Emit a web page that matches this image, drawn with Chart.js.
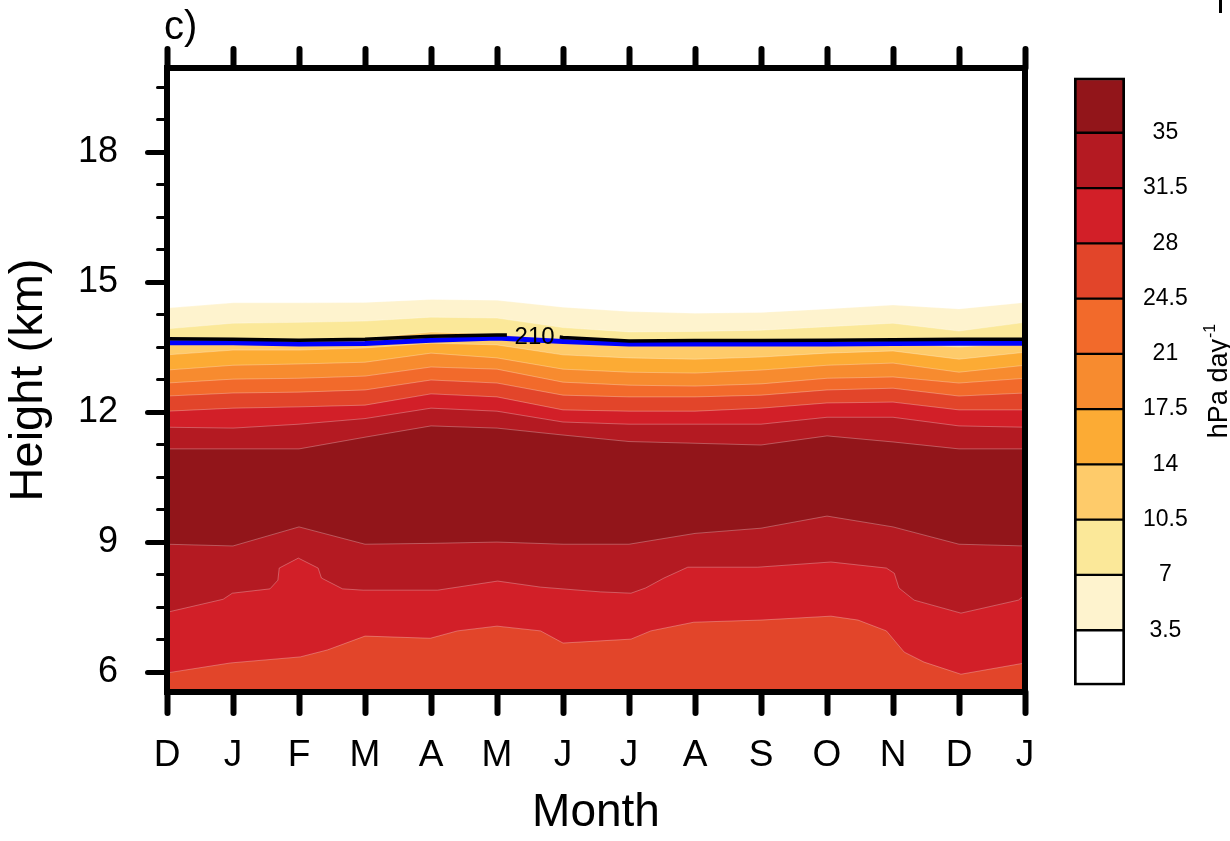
<!DOCTYPE html>
<html><head><meta charset="utf-8">
<script src="https://cdn.jsdelivr.net/npm/chart.js@4.4.1/dist/chart.umd.min.js"></script>
<style>
html,body{margin:0;padding:0;background:#fff;}
#wrap{position:relative;width:1230px;height:841px;overflow:hidden;background:#fff;}
#main{position:absolute;left:0;top:0;}
#cbar{position:absolute;left:1050px;top:0;}
</style></head><body>
<div id="wrap">
<canvas id="main" width="1230" height="841"></canvas>
<canvas id="cbar" width="180" height="841"></canvas>
</div>
<script>
// ---------- data ----------
const monthLabels = ['D','J','F','M','A','M','J','J','A','S','O','N','D','J'];
const heightTicks = [6, 9, 12, 15, 18];
const heightMinorTicks = [6.75, 7.5, 8.25, 9.75, 10.5, 11.25, 12.75, 13.5, 14.25, 15.75, 16.5, 17.25, 18.75, 19.5];
const levelValues = [3.5, 7, 10.5, 14, 17.5, 21, 24.5, 28, 31.5, 35];
const levelLabels = ['3.5', '7', '10.5', '14', '17.5', '21', '24.5', '28', '31.5', '35'];
const bandColors = ['#ffffff', '#fef3ce', '#fbe899', '#fecb6a', '#fcab34', '#f78b2f', '#f26a2b', '#e2452a', '#d21f28', '#b41a22', '#92151a'];

// contour boundaries: [month index (0 = D), height km]
const upper3_5 = [[0,14.40],[1,14.52],[2,14.52],[3,14.53],[4,14.60],[5,14.58],[6,14.42],[7,14.32],[8,14.28],[9,14.30],[10,14.38],[11,14.47],[12,14.38],[13,14.53]];
const upper7 = [[0,13.92],[1,14.05],[2,14.07],[3,14.10],[4,14.19],[5,14.17],[6,13.95],[7,13.85],[8,13.86],[9,13.89],[10,13.97],[11,14.05],[12,13.87],[13,14.07]];
const upper10_5 = [[0,13.64],[1,13.66],[2,13.64],[3,13.70],[4,13.85],[5,13.80],[6,13.65],[7,13.59],[8,13.57],[9,13.57],[10,13.58],[11,13.59],[12,13.50],[13,13.60]];
const upper14 = [[0,13.32],[1,13.43],[2,13.43],[3,13.48],[4,13.59],[5,13.55],[6,13.32],[7,13.25],[8,13.22],[9,13.27],[10,13.36],[11,13.41],[12,13.22],[13,13.38]];
const upper17_5 = [[0,12.97],[1,13.08],[2,13.11],[3,13.15],[4,13.36],[5,13.25],[6,12.99],[7,12.92],[8,12.90],[9,12.97],[10,13.08],[11,13.13],[12,12.92],[13,13.08]];
const upper21 = [[0,12.67],[1,12.76],[2,12.78],[3,12.83],[4,13.04],[5,12.99],[6,12.69],[7,12.62],[8,12.60],[9,12.65],[10,12.78],[11,12.81],[12,12.67],[13,12.78]];
const upper24_5 = [[0,12.37],[1,12.44],[2,12.46],[3,12.51],[4,12.74],[5,12.67],[6,12.39],[7,12.35],[8,12.35],[9,12.39],[10,12.51],[11,12.55],[12,12.37],[13,12.44]];
const upper28 = [[0,12.02],[1,12.09],[2,12.12],[3,12.16],[4,12.42],[5,12.35],[6,12.05],[7,12.02],[8,12.02],[9,12.09],[10,12.21],[11,12.23],[12,12.05],[13,12.05]];
const upper31_5 = [[0,11.65],[1,11.63],[2,11.72],[3,11.85],[4,12.09],[5,12.02],[6,11.77],[7,11.72],[8,11.72],[9,11.72],[10,11.88],[11,11.88],[12,11.68],[13,11.65]];
const upper35 = [[0,11.15],[1,11.15],[2,11.15],[3,11.42],[4,11.68],[5,11.63],[6,11.47],[7,11.32],[8,11.28],[9,11.24],[10,11.45],[11,11.31],[12,11.15],[13,11.15]];
const lower35 = [[0,8.95],[1,8.91],[2,9.35],[3,8.95],[4,8.97],[5,9.00],[6,8.95],[7,8.95],[8,9.20],[9,9.32],[10,9.60],[11,9.35],[12,8.95],[13,8.91]];
const lower31_5 = [[0,7.38],[0.85,7.68],[0.99,7.82],[1.56,7.92],[1.68,8.12],[1.70,8.40],[1.99,8.63],[2.29,8.40],[2.34,8.17],[2.66,7.92],[2.97,7.89],[4.10,7.89],[5.01,8.10],[5.66,7.96],[6.57,7.85],[7.03,7.82],[7.25,7.94],[7.53,8.17],[7.89,8.42],[8.95,8.42],[10.06,8.54],[10.90,8.40],[11.02,8.28],[11.09,7.94],[11.32,7.66],[12.03,7.36],[12.90,7.66],[13,7.78]];
const lower28 = [[0,5.98],[0.96,6.21],[2.02,6.35],[2.43,6.51],[3.0,6.83],[3.99,6.78],[4.4,6.95],[5.0,7.06],[5.66,6.95],[6.0,6.67],[6.57,6.72],[7.03,6.76],[7.33,6.95],[7.98,7.15],[9.0,7.20],[10.06,7.29],[10.47,7.20],[10.9,6.95],[11.17,6.46],[11.47,6.23],[12.03,5.95],[13,6.21]];
// overlay lines
const blueLine = [[0,13.60],[1,13.60],[2,13.57],[3,13.58],[4,13.66],[5,13.71],[6,13.63],[7,13.57],[8,13.57],[9,13.57],[10,13.57],[11,13.58],[12,13.59],[13,13.59]];
const contour210 = [[0,13.69],[1,13.68],[2,13.66],[3,13.68],[4,13.75],[5,13.78],[5.15,13.78],[5.5,null],[5.95,13.73],[6,13.72],[7,13.64],[8,13.65],[9,13.65],[10,13.66],[11,13.67],[12,13.68],[13,13.68]];
const contour210Label = {text: '210', month: 5.57, km: 13.73};
const panelLabel = 'c)';
const unitLabel = 'hPa day';
const unitSup = '-1';

// ---------- chart ----------
const FONT = '"Liberation Sans", Arial, Helvetica, sans-serif';
Chart.defaults.font.family = FONT;
Chart.defaults.color = '#000';

const toPts = arr => arr.map(p => ({x: p[0], y: p[1]}));
const boundaries = [
  [upper3_5, 1], [upper7, 2], [upper10_5, 3], [upper14, 4], [upper17_5, 5],
  [upper21, 6], [upper24_5, 7], [upper28, 8], [upper31_5, 9], [upper35, 10],
  [lower35, 9], [lower31_5, 8], [lower28, 7]
];
const datasets = boundaries.map((b, i) => ({
  data: toPts(b[0]),
  fill: 'start',
  backgroundColor: bandColors[b[1]],
  borderColor: 'rgba(255,255,255,0.28)',
  borderWidth: 1,
  pointRadius: 0,
  tension: 0,
  order: 100 - i
}));
datasets.push({data: toPts(blueLine), fill: false, borderColor: '#0000ff', borderWidth: 5, pointRadius: 0, tension: 0, order: 1});
datasets.push({data: toPts(contour210), fill: false, borderColor: '#000000', borderWidth: 3.5, pointRadius: 0, tension: 0, spanGaps: false, order: 0});

const Y_MIN = 5.54, Y_MAX = 19.94;

const framePlugin = {
  id: 'frame',
  beforeDraw(chart) {
    chart.ctx.lineCap = 'round';
  },
  afterDatasetsDraw(chart) {
    const {ctx, chartArea: a, scales} = chart;
    ctx.save();
    // contour label
    ctx.font = '24px ' + FONT;
    ctx.fillStyle = '#000';
    ctx.textAlign = 'center';
    ctx.textBaseline = 'middle';
    ctx.fillText(contour210Label.text, scales.x.getPixelForValue(contour210Label.month), scales.y.getPixelForValue(contour210Label.km));
    // frame
    ctx.lineWidth = 6;
    ctx.lineJoin = 'miter';
    ctx.lineCap = 'butt';
    ctx.strokeStyle = '#000';
    ctx.strokeRect(a.left, a.top, a.right - a.left, a.bottom - a.top);
    ctx.restore();
  },
  afterDraw(chart) {
    const ctx = chart.ctx;
    ctx.save();
    ctx.font = '40px ' + FONT;
    ctx.fillStyle = '#000';
    ctx.textAlign = 'left';
    ctx.textBaseline = 'alphabetic';
    ctx.fillText(panelLabel, 164, 39);
    ctx.fillRect(1219, 0, 3, 13);
    ctx.restore();
  }
};

new Chart(document.getElementById('main'), {
  type: 'line',
  data: {datasets},
  options: {
    responsive: false, animation: false, devicePixelRatio: 1,
    layout: {padding: {left: 0, top: 0, right: 205, bottom: 0}},
    plugins: {legend: {display: false}, tooltip: {enabled: false}},
    scales: {
      x: {
        type: 'linear', position: 'bottom', min: 0, max: 13,
        afterBuildTicks: s => { s.ticks = monthLabels.map((_, i) => ({value: i})); },
        afterFit: s => { s.height = 149; },
        ticks: {callback: v => monthLabels[v], font: {size: 37}, color: '#000', padding: 21, maxRotation: 0, autoSkip: false},
        grid: {drawOnChartArea: false, tickLength: 21, tickWidth: 6, tickColor: '#000'},
        border: {display: false},
        title: {display: true, text: 'Month', font: {size: 46}, color: '#000', padding: {top: 0, bottom: 0}}
      },
      x2: {
        type: 'linear', position: 'top', min: 0, max: 13,
        afterBuildTicks: s => { s.ticks = monthLabels.map((_, i) => ({value: i})); },
        afterFit: s => { s.height = 68; },
        ticks: {display: false},
        grid: {drawOnChartArea: false, tickLength: 19, tickWidth: 6, tickColor: '#000'},
        border: {display: false}
      },
      y: {
        type: 'linear', position: 'left', weight: 1, min: Y_MIN, max: Y_MAX,
        afterBuildTicks: s => { s.ticks = heightTicks.map(v => ({value: v})); },
        afterFit: s => { s.width = 167; },
        ticks: {callback: v => String(v), font: {size: 36}, color: '#000', padding: 29.5},
        grid: {drawOnChartArea: false, tickLength: 19.5, tickWidth: 5, tickColor: '#000'},
        border: {display: false},
        title: {display: true, text: 'Height (km)', font: {size: 47}, color: '#000', padding: {top: 1, bottom: 0}}
      },
      yMinor: {
        type: 'linear', position: 'left', weight: 0, min: Y_MIN, max: Y_MAX,
        afterBuildTicks: s => { s.ticks = heightMinorTicks.map(v => ({value: v})); },
        afterFit: s => { s.width = 0; },
        ticks: {display: false},
        grid: {drawOnChartArea: false, tickLength: 9.5, tickWidth: 3, tickColor: '#000'},
        border: {display: false}
      }
    }
  },
  plugins: [framePlugin]
});

// ---------- colour bar ----------
const bandStep = levelValues[1] - levelValues[0];
const cbarDatasets = bandColors.map((c, i) => ({
  data: [bandStep],
  backgroundColor: c,
  borderColor: '#000',
  borderWidth: {top: i === bandColors.length - 1 ? 3 : 1.5, bottom: i === 0 ? 3 : 1.5, left: 3, right: 3},
  borderSkipped: false,
  barPercentage: 1,
  categoryPercentage: 1
}));
const unitPlugin = {
  id: 'unit',
  afterDraw(chart) {
    const ctx = chart.ctx;
    ctx.save();
    ctx.fillStyle = '#000';
    ctx.font = '27px ' + FONT;
    const w1 = ctx.measureText(unitLabel).width;
    ctx.font = '16px ' + FONT;
    const w2 = ctx.measureText(unitSup).width;
    const total = w1 + w2 + 1;
    ctx.translate(177, 381);
    ctx.rotate(-Math.PI / 2);
    ctx.textAlign = 'left';
    ctx.textBaseline = 'alphabetic';
    ctx.font = '27px ' + FONT;
    ctx.fillText(unitLabel, -total / 2, 0);
    ctx.font = '16px ' + FONT;
    ctx.fillText(unitSup, -total / 2 + w1 + 1, -12);
    ctx.restore();
  }
};
new Chart(document.getElementById('cbar'), {
  type: 'bar',
  data: {labels: [''], datasets: cbarDatasets},
  options: {
    responsive: false, animation: false, devicePixelRatio: 1,
    layout: {padding: {left: 24, top: 77.5, bottom: 155.5, right: 0}},
    plugins: {legend: {display: false}, tooltip: {enabled: false}},
    scales: {
      x: {display: false, stacked: true},
      y: {
        stacked: true, position: 'right', min: 0, max: bandStep * bandColors.length,
        afterBuildTicks: s => { s.ticks = levelValues.map(v => ({value: v})); },
        afterFit: s => { s.width = 105; },
        grid: {display: false, drawTicks: false},
        border: {display: false},
        ticks: {crossAlign: 'center', padding: 18, font: {size: 23}, color: '#000',
          callback: (v, i) => levelLabels[i]}
      }
    }
  },
  plugins: [unitPlugin]
});
</script>
</body></html>
